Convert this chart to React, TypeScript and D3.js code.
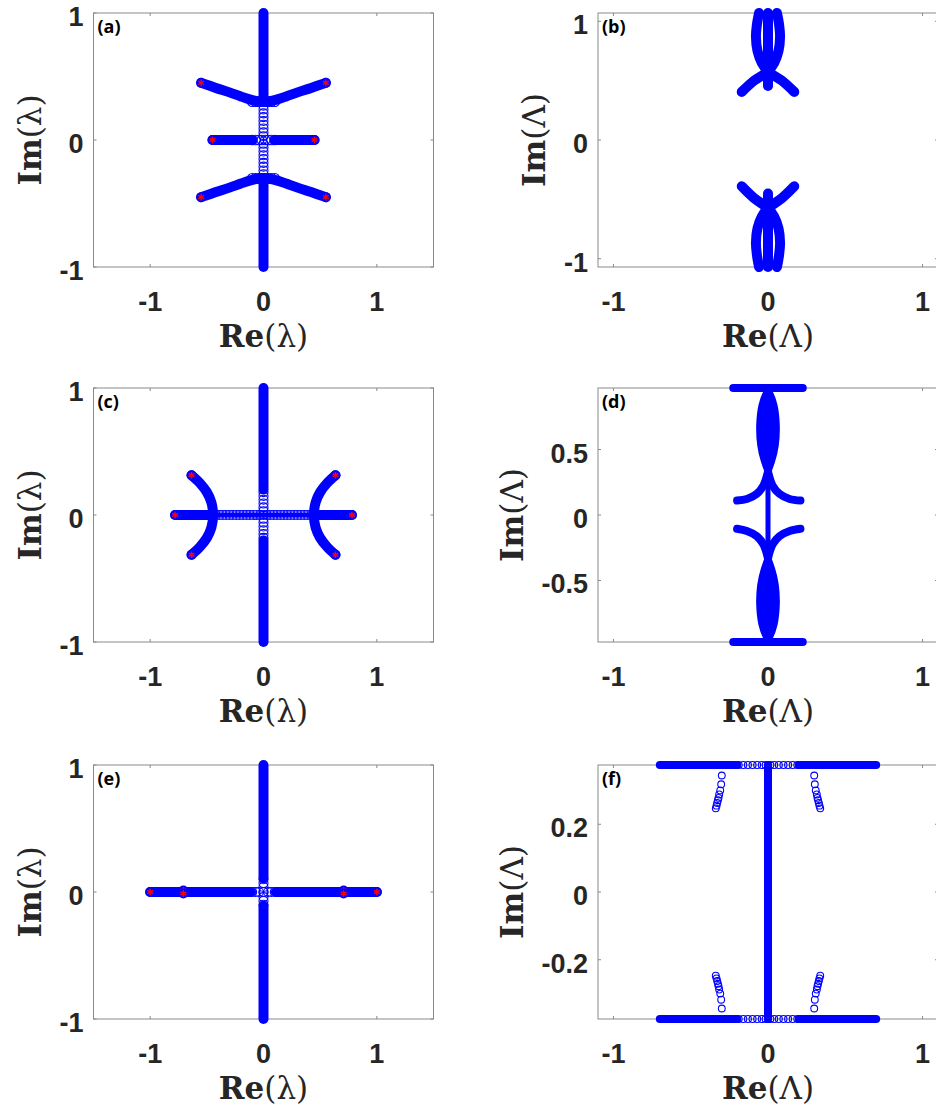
import React, { useEffect, useRef } from "react";
import * as d3 from "d3";

type Pt = [number, number];

// ---------- panel (a) ----------
const aSpineTop: Pt[] = [[0, 0.3], [0, 1]];
const aSpineBottom: Pt[] = [[0, -1], [0, -0.3]];
const aUpperV: Pt[] = [[-0.55, 0.45], [-0.42, 0.41], [-0.3, 0.375], [-0.2, 0.343], [-0.13, 0.322], [-0.08, 0.31], [-0.05, 0.304]];
const aUpperV2: Pt[] = [[0.05, 0.304], [0.08, 0.31], [0.13, 0.322], [0.2, 0.343], [0.3, 0.375], [0.42, 0.41], [0.55, 0.45]];
const aLowerV: Pt[] = [[-0.55, -0.45], [-0.42, -0.41], [-0.3, -0.375], [-0.2, -0.343], [-0.13, -0.322], [-0.08, -0.31], [-0.05, -0.304]];
const aLowerV2: Pt[] = [[0.05, -0.304], [0.08, -0.31], [0.13, -0.322], [0.2, -0.343], [0.3, -0.375], [0.42, -0.41], [0.55, -0.45]];
const aMiddleL: Pt[] = [[-0.45, 0], [-0.1, 0]];
const aMiddleR: Pt[] = [[0.1, 0], [0.45, 0]];
const aRingY = [-0.3, -0.27, -0.24, -0.21, -0.18, -0.15, -0.12, -0.09, -0.06, -0.03, 0.03, 0.06, 0.09, 0.12, 0.15, 0.18, 0.21, 0.24, 0.27, 0.3];
const aRingX = [-0.1, -0.07, -0.04, -0.015, 0.015, 0.04, 0.07, 0.1];
const aStars: Pt[] = [[-0.55, 0.45], [0.55, 0.45], [-0.45, 0], [0.45, 0], [-0.55, -0.45], [0.55, -0.45]];

// ---------- panel (b) ----------
const bLoopUpA: Pt[] = [[-0.17, 0.405], [-0.09, 0.5], [-0.03, 0.55], [0, 0.58], [0.04, 0.65], [0.068, 0.75], [0.078, 0.87], [0.072, 0.97], [0.058, 1.07]];
const bLoopUpB: Pt[] = [[0.17, 0.405], [0.09, 0.5], [0.03, 0.55], [0, 0.58], [-0.04, 0.65], [-0.068, 0.75], [-0.078, 0.87], [-0.072, 0.97], [-0.058, 1.07]];
const bLoopDnA: Pt[] = [[-0.17, -0.39], [-0.09, -0.49], [-0.03, -0.545], [0, -0.575], [0.04, -0.645], [0.068, -0.745], [0.078, -0.865], [0.072, -0.965], [0.058, -1.07]];
const bLoopDnB: Pt[] = [[0.17, -0.39], [0.09, -0.49], [0.03, -0.545], [0, -0.575], [-0.04, -0.645], [-0.068, -0.745], [-0.078, -0.865], [-0.072, -0.965], [-0.058, -1.07]];
const bStemUp: Pt[] = [[0, 0.455], [0, 1.07]];
const bStemDn: Pt[] = [[0, -1.07], [0, -0.45]];

// ---------- panel (c) ----------
const cSpineTop: Pt[] = [[0, 0.2], [0, 1]];
const cSpineBottom: Pt[] = [[0, -1], [0, -0.2]];
const cHorizL: Pt[] = [[-0.78, 0], [-0.44, 0]];
const cHorizR: Pt[] = [[0.44, 0], [0.78, 0]];
const cCore: Pt[] = [[-0.44, 0], [0.44, 0]];
const cArcL: Pt[] = [[-0.635, 0.313], [-0.56, 0.25], [-0.5, 0.18], [-0.46, 0.1], [-0.445, 0], [-0.46, -0.1], [-0.5, -0.18], [-0.56, -0.25], [-0.635, -0.313]];
const cArcR: Pt[] = [[0.635, 0.313], [0.56, 0.25], [0.5, 0.18], [0.46, 0.1], [0.445, 0], [0.46, -0.1], [0.5, -0.18], [0.56, -0.25], [0.635, -0.313]];
const cRingX = [-0.42, -0.39, -0.36, -0.33, -0.3, -0.27, -0.24, -0.21, -0.18, -0.15, -0.12, -0.09, -0.06, -0.03, 0.03, 0.06, 0.09, 0.12, 0.15, 0.18, 0.21, 0.24, 0.27, 0.3, 0.33, 0.36, 0.39, 0.42];
const cRingY = [-0.18, -0.15, -0.12, -0.09, -0.06, -0.03, 0, 0.03, 0.06, 0.09, 0.12, 0.15, 0.18];
const cStars: Pt[] = [[-0.635, 0.313], [-0.635, -0.313], [0.635, 0.313], [0.635, -0.313], [-0.78, 0], [0.78, 0]];

// ---------- panel (d) ----------
const dBarTop: Pt[] = [[-0.225, 0.97], [0.225, 0.97]];
const dBarBottom: Pt[] = [[-0.225, -0.97], [0.225, -0.97]];
const dStem: Pt[] = [[0, -0.97], [0, 0.97]];
const dLensY = [0.97, 0.94, 0.84, 0.68, 0.53, 0.41, 0.31];
const dLensW = [0.008, 0.025, 0.055, 0.07, 0.063, 0.04, 0.005];
const dArmUpL: Pt[] = [[0, 0.33], [-0.03, 0.224], [-0.073, 0.161], [-0.137, 0.122], [-0.2, 0.11]];
const dArmUpR: Pt[] = [[0, 0.33], [0.03, 0.224], [0.075, 0.161], [0.14, 0.122], [0.21, 0.11]];
const dArmDnL: Pt[] = [[0, -0.33], [-0.03, -0.224], [-0.073, -0.161], [-0.137, -0.122], [-0.2, -0.105]];
const dArmDnR: Pt[] = [[0, -0.33], [0.03, -0.224], [0.075, -0.161], [0.14, -0.122], [0.21, -0.105]];

// ---------- panel (e) ----------
const eSpineTop: Pt[] = [[0, 0.11], [0, 1]];
const eSpineBottom: Pt[] = [[0, -1], [0, -0.11]];
const eHorizL: Pt[] = [[-1, 0], [-0.11, 0]];
const eHorizR: Pt[] = [[0.11, 0], [1, 0]];
const eRingV = [-0.1, -0.07, -0.04, 0, 0.04, 0.07, 0.1];
const eStars: Pt[] = [[-1, 0], [-0.707, 0.012], [-0.707, -0.012], [0.707, 0.012], [0.707, -0.012], [1, 0]];

// ---------- panel (f) ----------
const fBarTopL: Pt[] = [[-0.7, 0.375], [-0.2, 0.375]];
const fBarTopR: Pt[] = [[0.2, 0.375], [0.7, 0.375]];
const fBarBotL: Pt[] = [[-0.7, -0.375], [-0.2, -0.375]];
const fBarBotR: Pt[] = [[0.2, -0.375], [0.7, -0.375]];
const fStem: Pt[] = [[0, -0.375], [0, 0.375]];
const fBarRingX = [-0.19, -0.16, -0.13, -0.1, -0.07, -0.04, -0.015, 0.015, 0.04, 0.07, 0.1, 0.13, 0.16, 0.19];
const fChainUL: Pt[] = [[-0.299, 0.344], [-0.303, 0.318], [-0.309, 0.3], [-0.316, 0.288], [-0.32, 0.278], [-0.324, 0.271], [-0.329, 0.263], [-0.333, 0.255], [-0.338, 0.247]];
const fChainUR: Pt[] = [[0.299, 0.344], [0.303, 0.318], [0.309, 0.3], [0.316, 0.288], [0.32, 0.278], [0.324, 0.271], [0.329, 0.263], [0.333, 0.255], [0.338, 0.247]];
const fChainLL: Pt[] = [[-0.299, -0.344], [-0.303, -0.318], [-0.309, -0.3], [-0.316, -0.288], [-0.32, -0.278], [-0.324, -0.271], [-0.329, -0.263], [-0.333, -0.255], [-0.338, -0.247]];
const fChainLR: Pt[] = [[0.299, -0.344], [0.303, -0.318], [0.309, -0.3], [0.316, -0.288], [0.32, -0.278], [0.324, -0.271], [0.329, -0.263], [0.333, -0.255], [0.338, -0.247]];

// ticks
const ticksUnit = [-1, 0, 1];
const ticksHalf = [-0.5, 0, 0.5];
const ticksFifth = [-0.2, 0, 0.2];

const BLUE = "#0000ff";

type Stroke = { pts: Pt[]; w?: number };
type Panel = {
  id: string;
  col: number;
  row: number;
  xDomain: [number, number];
  yDomain: [number, number];
  yTicks: number[];
  sym: string;
  lines: Stroke[];
  fills?: Pt[][];
  rings?: { pts: Pt[]; r: number }[];
  stars?: Pt[];
};

// lens outline from the half-width table
const lensTop: Pt[] = [
  ...dLensY.map((y, i) => [dLensW[i], y] as Pt),
  ...dLensY.slice().reverse().map((y, i) => [-dLensW[dLensW.length - 1 - i], y] as Pt),
];
const lensBottom: Pt[] = lensTop.map(([x, y]) => [x, -y] as Pt);

const panels: Panel[] = [
  {
    id: "a", col: 0, row: 0, xDomain: [-1.5, 1.5], yDomain: [-1, 1], yTicks: ticksUnit, sym: "λ",
    lines: [aSpineTop, aSpineBottom, aUpperV, aUpperV2, aLowerV, aLowerV2, aMiddleL, aMiddleR].map((pts) => ({ pts })),
    rings: [
      { pts: aRingY.map((y) => [0, y] as Pt), r: 4.5 },
      { pts: aRingX.map((x) => [x, 0.302] as Pt), r: 4.8 },
      { pts: aRingX.map((x) => [x, -0.302] as Pt), r: 4.8 },
      { pts: aRingX.map((x) => [x, 0] as Pt), r: 4.8 },
    ],
    stars: aStars,
  },
  {
    id: "b", col: 1, row: 0, xDomain: [-1.1, 1.1], yDomain: [-1.07, 1.07], yTicks: ticksUnit, sym: "Λ",
    lines: [bLoopUpA, bLoopUpB, bLoopDnA, bLoopDnB, bStemUp, bStemDn].map((pts) => ({ pts })),
  },
  {
    id: "c", col: 0, row: 1, xDomain: [-1.5, 1.5], yDomain: [-1, 1], yTicks: ticksUnit, sym: "λ",
    lines: [{ pts: cCore, w: 5 }, ...[cSpineTop, cSpineBottom, cHorizL, cHorizR, cArcL, cArcR].map((pts) => ({ pts }))],
    rings: [
      { pts: cRingX.map((x) => [x, 0] as Pt), r: 4.5 },
      { pts: cRingY.map((y) => [0, y] as Pt), r: 4.5 },
    ],
    stars: cStars,
  },
  {
    id: "d", col: 1, row: 1, xDomain: [-1.1, 1.1], yDomain: [-0.97, 0.97], yTicks: ticksHalf, sym: "Λ",
    lines: [
      { pts: dStem, w: 5 },
      { pts: dBarTop, w: 8 },
      { pts: dBarBottom, w: 8 },
      { pts: dArmUpL, w: 8 },
      { pts: dArmUpR, w: 8 },
      { pts: dArmDnL, w: 8 },
      { pts: dArmDnR, w: 8 },
    ],
    fills: [lensTop, lensBottom],
  },
  {
    id: "e", col: 0, row: 2, xDomain: [-1.5, 1.5], yDomain: [-1, 1], yTicks: ticksUnit, sym: "λ",
    lines: [eSpineTop, eSpineBottom, eHorizL, eHorizR].map((pts) => ({ pts })),
    rings: [
      { pts: eRingV.map((y) => [0, y] as Pt), r: 4.5 },
      { pts: eRingV.map((x) => [x, 0] as Pt), r: 4.5 },
    ],
    stars: eStars,
  },
  {
    id: "f", col: 1, row: 2, xDomain: [-1.1, 1.1], yDomain: [-0.375, 0.375], yTicks: ticksFifth, sym: "Λ",
    lines: [
      { pts: fStem, w: 8 },
      { pts: fBarTopL, w: 8 },
      { pts: fBarTopR, w: 8 },
      { pts: fBarBotL, w: 8 },
      { pts: fBarBotR, w: 8 },
    ],
    rings: [
      { pts: fBarRingX.map((x) => [x, 0.375] as Pt), r: 3.5 },
      { pts: fBarRingX.map((x) => [x, -0.375] as Pt), r: 3.5 },
      { pts: fChainUL, r: 3.4 },
      { pts: fChainUR, r: 3.4 },
      { pts: fChainLL, r: 3.4 },
      { pts: fChainLR, r: 3.4 },
    ],
  },
];

const WIDTH = 936;
const HEIGHT = 1112;
const colLeft = [93.5, 598];
const rowTop = [13, 388, 765];
const boxW = 340;
const boxH = 254;

const App = () => {
  const svgRef = useRef<SVGSVGElement | null>(null);

  useEffect(() => {
    const svg = d3.select(svgRef.current);
    svg.selectAll("*").remove();

    panels.forEach((p) => {
      const left = colLeft[p.col];
      const top = rowTop[p.row];
      const x = d3.scaleLinear().domain(p.xDomain).range([left, left + boxW]);
      const y = d3.scaleLinear().domain(p.yDomain).range([top + boxH, top]);
      const g = svg.append("g").attr("class", `panel-${p.id}`);

      // frame
      g.append("rect")
        .attr("x", left)
        .attr("y", top)
        .attr("width", boxW)
        .attr("height", boxH)
        .attr("fill", "#fff")
        .attr("stroke", "#8a8a8a")
        .attr("stroke-width", 1);

      // inward ticks on all four sides
      const TL = 3;
      ticksUnit.forEach((t) => {
        const px = x(t);
        g.append("line").attr("x1", px).attr("x2", px).attr("y1", top + boxH).attr("y2", top + boxH - TL).attr("stroke", "#8a8a8a");
        g.append("line").attr("x1", px).attr("x2", px).attr("y1", top).attr("y2", top + TL).attr("stroke", "#8a8a8a");
      });
      p.yTicks.forEach((t) => {
        const py = y(t);
        g.append("line").attr("x1", left).attr("x2", left + TL).attr("y1", py).attr("y2", py).attr("stroke", "#8a8a8a");
        g.append("line").attr("x1", left + boxW).attr("x2", left + boxW - TL).attr("y1", py).attr("y2", py).attr("stroke", "#8a8a8a");
      });

      // tick labels
      ticksUnit.forEach((t) => {
        g.append("text")
          .attr("x", x(t))
          .attr("y", top + boxH + 44)
          .attr("text-anchor", "middle")
          .style("font-family", "'Liberation Sans', Arial, sans-serif")
          .style("font-weight", "bold")
          .style("font-size", "27px")
          .style("fill", "#262626")
          .text(String(t));
      });
      p.yTicks.forEach((t) => {
        g.append("text")
          .attr("x", left - 10)
          .attr("y", y(t) + 13)
          .attr("text-anchor", "end")
          .style("font-family", "'Liberation Sans', Arial, sans-serif")
          .style("font-weight", "bold")
          .style("font-size", "27px")
          .style("fill", "#262626")
          .text(String(t));
      });

      // axis labels
      const xl = g.append("text")
        .attr("x", x(0))
        .attr("y", top + boxH + 80)
        .attr("text-anchor", "middle")
        .style("font-family", "'DejaVu Serif', serif")
        .style("font-size", "31px")
        .style("fill", "#262626");
      xl.append("tspan").style("font-weight", "bold").text("Re");
      xl.append("tspan").text(`(${p.sym})`);

      const ylx = p.yTicks === ticksUnit ? left - 53 : left - 75;
      const yl = g.append("text")
        .attr("transform", `translate(${ylx}, ${top + boxH / 2}) rotate(-90)`)
        .attr("text-anchor", "middle")
        .style("font-family", "'DejaVu Serif', serif")
        .style("font-size", "31px")
        .style("fill", "#262626");
      yl.append("tspan").style("font-weight", "bold").text("Im");
      yl.append("tspan").text(`(${p.sym})`);

      // panel tag
      g.append("text")
        .attr("x", left + 4)
        .attr("y", top + 20)
        .style("font-family", "'Open Sans', sans-serif")
        .style("font-weight", "bold")
        .style("font-size", "18px")
        .style("fill", "#000")
        .text(`(${p.id})`);

      // data
      const line = d3
        .line<Pt>()
        .x((d) => x(d[0]))
        .y((d) => y(d[1]))
        .curve(d3.curveCatmullRom);

      (p.fills || []).forEach((pts) => {
        g.append("path")
          .attr("d", d3.line<Pt>().x((d) => x(d[0])).y((d) => y(d[1])).curve(d3.curveCatmullRomClosed)(pts))
          .attr("fill", BLUE)
          .attr("stroke", BLUE)
          .attr("stroke-width", 2);
      });

      p.lines.forEach((s) => {
        g.append("path")
          .attr("d", line(s.pts))
          .attr("fill", "none")
          .attr("stroke", BLUE)
          .attr("stroke-width", s.w ?? 10)
          .attr("stroke-linecap", "round")
          .attr("stroke-linejoin", "round");
      });

      (p.rings || []).forEach((ring) => {
        g.selectAll(null)
          .data(ring.pts)
          .join("circle")
          .attr("cx", (d) => x(d[0]))
          .attr("cy", (d) => y(d[1]))
          .attr("r", ring.r)
          .attr("fill", "none")
          .attr("stroke", BLUE)
          .attr("stroke-width", 1.1);
      });

      const star = d3.symbol().type(d3.symbolAsterisk).size(30);
      (p.stars || []).forEach((s) => {
        g.append("circle").attr("cx", x(s[0])).attr("cy", y(s[1])).attr("r", 5).attr("fill", BLUE);
        g.append("path")
          .attr("d", star() as string)
          .attr("transform", `translate(${x(s[0])}, ${y(s[1])})`)
          .attr("fill", "none")
          .attr("stroke", "#ff0000")
          .attr("stroke-width", 1.4);
      });
    });
  }, []);

  return (
    <div style={{ position: "absolute", left: 0, top: 0, background: "#fff" }}>
      <svg ref={svgRef} width={WIDTH} height={HEIGHT} style={{ display: "block" }}></svg>
    </div>
  );
};

export default App;
